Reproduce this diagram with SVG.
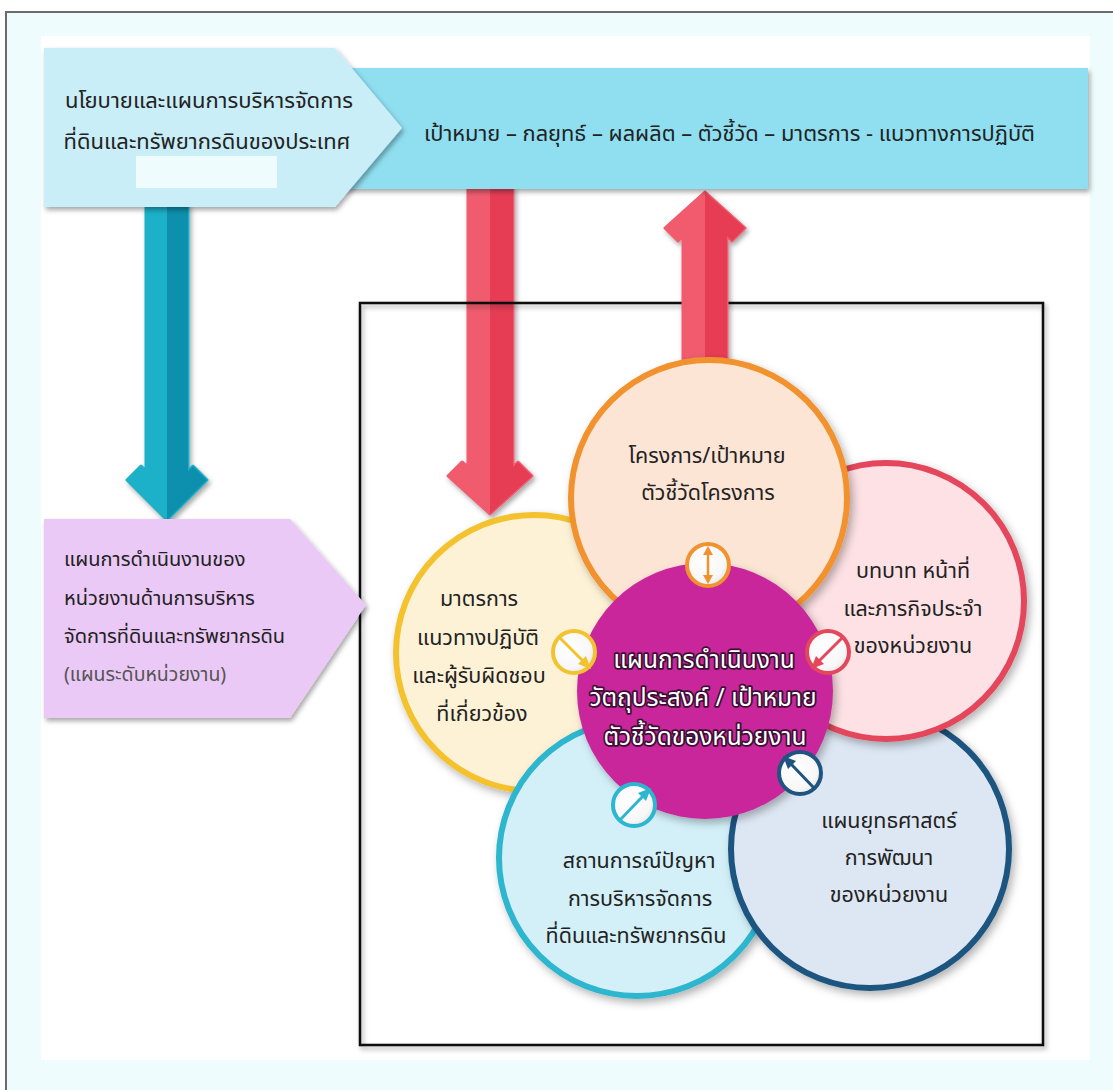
<svg xmlns="http://www.w3.org/2000/svg" width="1113" height="1090" viewBox="0 0 1113 1090">
<defs>
<style>
.t{font-family:'Noto Sans Thai','Noto Sans','DejaVu Sans',sans-serif;font-size:21.5px;fill:#222;text-anchor:middle}
.tl{font-family:'Noto Sans Thai','Noto Sans','DejaVu Sans',sans-serif;font-size:20px;fill:#222}
.tm{font-family:'Noto Sans Thai','Noto Sans','DejaVu Sans',sans-serif;font-size:24.5px;fill:#fff;stroke:#3b0f33;stroke-width:3.5;paint-order:stroke;stroke-linejoin:round;text-anchor:middle}
.badge{fill:url(#bg)}
</style>
<filter id="sh" x="-10%" y="-10%" width="130%" height="130%">
<feDropShadow dx="2" dy="3" stdDeviation="2.5" flood-color="#000" flood-opacity="0.35"/>
</filter>
<filter id="shc" x="-10%" y="-10%" width="130%" height="130%">
<feDropShadow dx="3" dy="4" stdDeviation="4" flood-color="#000" flood-opacity="0.3"/>
</filter>
<radialGradient id="bg" cx="0.4" cy="0.4" r="0.7">
<stop offset="0" stop-color="#ffffff"/>
<stop offset="0.7" stop-color="#f7f7f7"/>
<stop offset="1" stop-color="#dcdcdc"/>
</radialGradient>
</defs>

<rect x="0" y="0" width="1113" height="1090" fill="#ffffff"/>
<rect x="6" y="12" width="1120" height="1100" fill="#effcfd" stroke="#6b6b6b" stroke-width="2"/>
<rect x="41" y="36" width="1049" height="1024" fill="#ffffff"/>

<g id="connectors">
  <g id="arrow-teal" filter="url(#sh)">
    <polygon points="146,205 188,205 188,471 193,466 207,480 167,520 127,480 141,466 146,471" fill="#1cb0c9" stroke="#1cb0c9" stroke-width="3" stroke-linejoin="round"/>
    <polygon points="167,205 188,205 188,471 193,466 207,480 167,520" fill="#0b90ad"/>
  </g>
  <g id="arrow-red-down" filter="url(#sh)">
    <polygon points="468,188 513,188 513,467 518,462 532,476 490,514 448,476 462,462 468,467" fill="#f05b6e" stroke="#f05b6e" stroke-width="3" stroke-linejoin="round"/>
    <polygon points="490,188 513,188 513,467 518,462 532,476 490,514" fill="#e63d55"/>
  </g>
</g>

<g id="box">
  <rect x="360" y="303" width="683" height="742" fill="none" stroke="#111" stroke-width="2.5" filter="url(#sh)"/>
</g>

<g id="arrow-red-up-g" filter="url(#sh)">
  <polygon points="683,380 727,380 727,236 732,241 745,228 705,192 665,228 678,241 683,236" fill="#f05b6e" stroke="#f05b6e" stroke-width="3" stroke-linejoin="round"/>
  <polygon points="705,380 727,380 727,236 732,241 745,228 705,192" fill="#e63d55"/>
</g>

<g id="node-policy" filter="url(#sh)">
  <rect x="330" y="68" width="758" height="121" fill="#8fdff1"/>
</g>
<g id="node-policy-arrow" filter="url(#sh)">
  <polygon points="44,48 335,48 402,128 335,207 44,207" fill="#c9eef8"/>
  <rect x="136" y="156" width="141" height="32" fill="#effcfe"/>
</g>
<g id="node-policy-text">
  <text class="t" x="209" y="108" style="font-size:22px">นโยบายและแผนการบริหารจัดการ</text>
  <text class="t" x="207" y="149" style="font-size:22px">ที่ดินและทรัพยากรดินของประเทศ</text>
</g>
<g id="node-banner-text">
  <text class="tl" x="424" y="141" style="font-size:22px" textLength="611" lengthAdjust="spacingAndGlyphs">เป้าหมาย – กลยุทธ์ – ผลผลิต – ตัวชี้วัด – มาตรการ - แนวทางการปฏิบัติ</text>
</g>

<g id="node-unitplan">
  <polygon points="44,519 290,519 366,605 290,718 44,718" fill="#ebc9f6" filter="url(#sh)"/>
  <text class="tl" x="64" y="566">แผนการดำเนินงานของ</text>
  <text class="tl" x="64" y="605">หน่วยงานด้านการบริหาร</text>
  <text class="tl" x="64" y="643">จัดการที่ดินและทรัพยากรดิน</text>
  <text class="tl" x="64" y="681" style="fill:#555;font-size:19.5px">(แผนระดับหน่วยงาน)</text>
</g>

<g id="node-measures">
  <circle cx="534" cy="653" r="138" fill="#fef2d6" stroke="#f4c22e" stroke-width="6" filter="url(#shc)"/>
  <text class="t" x="479" y="606">มาตรการ</text>
  <text class="t" x="478" y="645">แนวทางปฏิบัติ</text>
  <text class="t" x="479" y="683">และผู้รับผิดชอบ</text>
  <text class="t" x="482" y="721">ที่เกี่ยวข้อง</text>
</g>
<g id="node-situation">
  <circle cx="637" cy="858" r="138" fill="#d3f0f9" stroke="#2db6cf" stroke-width="6" filter="url(#shc)"/>
  <text class="t" x="639" y="868">สถานการณ์ปัญหา</text>
  <text class="t" x="640" y="906">การบริหารจัดการ</text>
  <text class="t" x="636" y="943">ที่ดินและทรัพยากรดิน</text>
</g>
<g id="node-strategy">
  <circle cx="870" cy="849" r="139" fill="#dde7f3" stroke="#1e5580" stroke-width="6" filter="url(#shc)"/>
  <text class="t" x="889" y="828">แผนยุทธศาสตร์</text>
  <text class="t" x="889" y="865">การพัฒนา</text>
  <text class="t" x="889" y="902">ของหน่วยงาน</text>
</g>
<g id="node-roles">
  <circle cx="886" cy="601" r="138" fill="#fde1e4" stroke="#e4475c" stroke-width="6" filter="url(#shc)"/>
  <text class="t" x="913" y="578">บทบาท  หน้าที่</text>
  <text class="t" x="913" y="616">และภารกิจประจำ</text>
  <text class="t" x="913" y="653">ของหน่วยงาน</text>
</g>
<g id="node-projects">
  <circle cx="709" cy="498" r="138" fill="#fde5d6" stroke="#f1922f" stroke-width="6" filter="url(#shc)"/>
  <text class="t" x="707" y="463">โครงการ/เป้าหมาย</text>
  <text class="t" x="708" y="500">ตัวชี้วัดโครงการ</text>
</g>
<g id="node-center">
  <circle cx="705" cy="691" r="128" fill="#c8289a" filter="url(#shc)"/>
  <text class="tm" x="704" y="668">แผนการดำเนินงาน</text>
  <text class="tm" x="703" y="706">วัตถุประสงค์ / เป้าหมาย</text>
  <text class="tm" x="705" y="745">ตัวชี้วัดของหน่วยงาน</text>
</g>

<g id="badges">
  <g id="badge-top">
    <circle class="badge" cx="708" cy="565" r="21" stroke="#f1922f" stroke-width="4"/>
    <line x1="708" y1="553" x2="708" y2="577" stroke="#f1922f" stroke-width="2.5"/>
    <polygon points="708,546 703,555 713,555" fill="#f1922f"/>
    <polygon points="708,584 703,575 713,575" fill="#f1922f"/>
  </g>
  <g id="badge-left">
    <circle class="badge" cx="574" cy="652" r="21" stroke="#f2c32e" stroke-width="4"/>
    <line x1="559" y1="637" x2="584" y2="662" stroke="#f2c32e" stroke-width="3"/>
    <polygon points="591,669 578,664 586,656" fill="#f2c32e"/>
  </g>
  <g id="badge-right">
    <circle class="badge" cx="828" cy="652" r="21" stroke="#e4475c" stroke-width="4"/>
    <line x1="843" y1="637" x2="818" y2="662" stroke="#e4475c" stroke-width="3"/>
    <polygon points="811,669 816,656 824,664" fill="#e4475c"/>
  </g>
  <g id="badge-br">
    <circle class="badge" cx="800" cy="773" r="21" stroke="#1e5580" stroke-width="4"/>
    <line x1="815" y1="789" x2="790" y2="763" stroke="#1e5580" stroke-width="3"/>
    <polygon points="783,756 796,761 788,769" fill="#1e5580"/>
  </g>
  <g id="badge-bl">
    <circle class="badge" cx="634" cy="805" r="21" stroke="#2db6cf" stroke-width="4"/>
    <line x1="619" y1="821" x2="644" y2="795" stroke="#2db6cf" stroke-width="3"/>
    <polygon points="651,788 638,793 646,801" fill="#2db6cf"/>
  </g>
</g>
</svg>
